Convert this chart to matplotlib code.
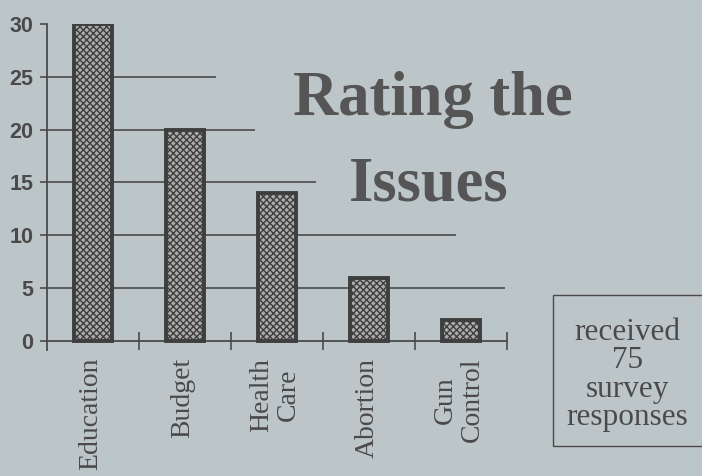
import numpy as np
import matplotlib
matplotlib.use("Agg")
from matplotlib import pyplot as plt

# data
issues = ["Education", "Budget", "Health\nCare", "Abortion", "Gun\nControl"]
votes = [30, 20, 14, 6, 2]
yticks = [0, 5, 10, 15, 20, 25, 30]
grid_levels = [5, 10, 15, 20, 25]
grid_ends = [4.48, 3.95, 2.42, 1.76, 1.34]   # the rules stop short, behind the title

bg = '#bcc6c8'
ink = '#4a4a4a'

plt.rcParams['hatch.linewidth'] = 1.0

fig = plt.figure(figsize=(7.02, 4.76), dpi=100)
fig.patch.set_facecolor(bg)
ax = fig.add_axes([0.067, 0.2637, 0.655, 0.6859])
ax.set_facecolor('none')

x = np.arange(len(issues))
ax.hlines(grid_levels, -0.5, grid_ends, color=ink, lw=1.2, zorder=1)
ax.bar(x, votes, width=0.42, color='#ababab', edgecolor='#3e3e3e',
       hatch='xxxxx', lw=2.8, zorder=3)

ax.set_xlim(-0.5, 4.5)
ax.set_ylim(-0.9, 30)
for s in ['top', 'right']:
    ax.spines[s].set_visible(False)
ax.spines['bottom'].set_position(('data', 0))
ax.spines['left'].set_bounds(-0.9, 30)
for s in ['bottom', 'left']:
    ax.spines[s].set_color(ink)
    ax.spines[s].set_linewidth(1.3)

ax.set_yticks(yticks)
ax.set_yticklabels([str(v) for v in yticks], fontsize=15.5, color=ink,
                   family='Liberation Sans', weight='bold')
ax.tick_params(axis='y', length=5, width=1.2, color=ink, pad=5)

ax.set_xticks(x + 0.5)
ax.set_xticklabels([])
ax.tick_params(axis='x', direction='inout', length=13, width=1.2, color=ink)

for xi, name in zip(x, issues):
    ax.text(xi - 0.02, -1.6, name, rotation=90, ha='center', va='top',
            multialignment='center', fontsize=20, color=ink,
            family='Liberation Serif', linespacing=1.1)

fig.text(0.616, 0.79, "Rating the", ha='center', va='center', fontsize=45,
         weight='bold', family='Liberation Serif', color='#555555')
fig.text(0.611, 0.61, "Issues", ha='center', va='center', fontsize=45,
         weight='bold', family='Liberation Serif', color='#555555')

box = plt.Rectangle((553 / 702, 1 - 446 / 476), 0.22, 151 / 476,
                    transform=fig.transFigure, fill=False, ec=ink, lw=1.0)
fig.patches.append(box)
fig.text(0.894, 0.212, "received\n75\nsurvey\nresponses", ha='center',
         va='center', fontsize=22.5, family='Liberation Serif', color=ink,
         linespacing=0.98)

fig.savefig('out.png', dpi=100, facecolor=bg)
